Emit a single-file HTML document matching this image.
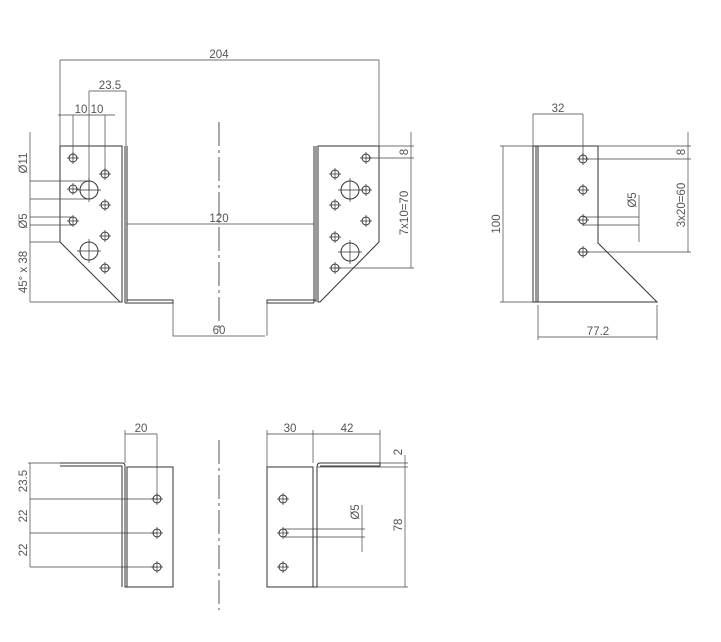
<!DOCTYPE html>
<html><head><meta charset="utf-8"><style>
html,body{margin:0;padding:0;background:#fff}
svg{display:block}
text{font-family:"Liberation Sans",sans-serif;font-size:11.5px;fill:#555}
</style></head><body>
<svg width="721" height="642" viewBox="0 0 721 642" xmlns="http://www.w3.org/2000/svg">
<defs>
<g id="sh"><circle r="4" fill="none" stroke="#333" stroke-width="1"/><path d="M-6 0H6M0 -6V6" stroke="#333" stroke-width="0.7"/></g>
<g id="lh"><circle r="9" fill="none" stroke="#333" stroke-width="1"/><path d="M-12 0H12M0 -12V12" stroke="#333" stroke-width="0.7"/></g>
</defs>
<g fill="none" stroke="#333" stroke-width="1">
<path d="M60 146H122V302H120L60 242Z"/>
<path d="M122 146V302M125 146V303M127 146V302M125 303H173V300H127"/>
<path d="M318 146H379V242L320 302H318Z"/>
<path d="M314 146V303M318 146V302M316 146V302M314 303H267V300H316"/>
</g>
<g stroke="#444" stroke-width="0.7" fill="none">
<path d="M60 60H379M60 60V146M379 60V146"/>
<path d="M89 91H126M89 91V190M126 91V146"/>
<path d="M58 115H115M73 115V158M105 115V174"/>
<path d="M30 132V302M30 181H89M30 199H89M30 217H73M30 225H73M30 242H60M30 302H120"/>
<path d="M127 224H314"/>
<path d="M173 303V336H265M267 303V336"/>
<path d="M411 132V268M379 146H414M366 158H414M335 268H414"/>
<path d="M533 114H583M533 114V146M583 114V159"/>
<path d="M503 146V302M500 146H533M500 302H533"/>
<path d="M538 305V340M657 305V340M538 337H657"/>
<path d="M688 132V252M598 146H691M583 159H691M583 252H691"/>
<path d="M583 217H639M583 225H639M639 195V242"/>
<path d="M125 434H157M125 430V463M157 434V499"/>
<path d="M30 463V567M28 463H60M30 499H157M30 533H157M30 567H157"/>
<path d="M267 434H380M267 430V467M313 430V463M380 430V463"/>
<path d="M405 455V587M380 463H408M317 467H408M317 587H408"/>
<path d="M283 529H365M283 537H365M362 505V552"/>
</g>
<g stroke="#555" stroke-width="1" stroke-dasharray="24 4 3 4">
<path d="M219 122V332"/><path d="M219 440V610"/>
</g>
<g fill="none" stroke="#333" stroke-width="1">
<path d="M538 146H598V243L657 302H538Z"/>
<path d="M533 146V302H538M536 146V302M533 146H538"/>
<path d="M60 463H122Q125 463 125 466V587H127M60 466H122V587"/>
<path d="M127 467H173V587H127Z"/>
<path d="M267 467H313V587H267Z"/>
<path d="M313 467V587H317V467Q317 463 320 463H380V466H320"/>
</g>
<g>
<use href="#sh" x="73" y="158"/><use href="#sh" x="73" y="189"/><use href="#sh" x="73" y="221"/>
<use href="#sh" x="105" y="174"/><use href="#sh" x="105" y="205"/><use href="#sh" x="105" y="236"/><use href="#sh" x="105" y="268"/>
<use href="#lh" x="89" y="190"/><use href="#lh" x="89" y="251"/>
<use href="#sh" x="366" y="158"/><use href="#sh" x="366" y="190"/><use href="#sh" x="366" y="221"/>
<use href="#sh" x="335" y="174"/><use href="#sh" x="335" y="205"/><use href="#sh" x="335" y="237"/><use href="#sh" x="335" y="268"/>
<use href="#lh" x="350" y="190"/><use href="#lh" x="350" y="252"/>
<use href="#sh" x="583" y="159"/><use href="#sh" x="583" y="190"/><use href="#sh" x="583" y="220"/><use href="#sh" x="583" y="252"/>
<use href="#sh" x="157" y="499"/><use href="#sh" x="157" y="533"/><use href="#sh" x="157" y="567"/>
<use href="#sh" x="283" y="499"/><use href="#sh" x="283" y="533"/><use href="#sh" x="283" y="567"/>
</g>
<text x="219" y="58" text-anchor="middle">204</text>
<text x="110" y="89" text-anchor="middle">23.5</text>
<text x="81" y="113" text-anchor="middle">10</text>
<text x="97" y="113" text-anchor="middle">10</text>
<text x="219" y="222" text-anchor="middle">120</text>
<text x="219" y="334" text-anchor="middle">60</text>
<text x="558" y="112" text-anchor="middle">32</text>
<text x="598" y="335" text-anchor="middle">77.2</text>
<text x="141" y="432" text-anchor="middle">20</text>
<text x="290" y="432" text-anchor="middle">30</text>
<text x="347" y="432" text-anchor="middle">42</text>
<text transform="translate(27,163) rotate(-90)" text-anchor="middle">Ø11</text>
<text transform="translate(27,221) rotate(-90)" text-anchor="middle">Ø5</text>
<text transform="translate(27,272) rotate(-90)" text-anchor="middle">45° x 38</text>
<text transform="translate(408,152) rotate(-90)" text-anchor="middle">8</text>
<text transform="translate(408,213) rotate(-90)" text-anchor="middle">7x10=70</text>
<text transform="translate(500,224) rotate(-90)" text-anchor="middle">100</text>
<text transform="translate(685,152) rotate(-90)" text-anchor="middle">8</text>
<text transform="translate(685,205) rotate(-90)" text-anchor="middle">3x20=60</text>
<text transform="translate(636,200) rotate(-90)" text-anchor="middle">Ø5</text>
<text transform="translate(27,481) rotate(-90)" text-anchor="middle">23.5</text>
<text transform="translate(27,516) rotate(-90)" text-anchor="middle">22</text>
<text transform="translate(27,550) rotate(-90)" text-anchor="middle">22</text>
<text transform="translate(402,452) rotate(-90)" text-anchor="middle">2</text>
<text transform="translate(402,525) rotate(-90)" text-anchor="middle">78</text>
<text transform="translate(359,512) rotate(-90)" text-anchor="middle">Ø5</text>
</svg>
</body></html>
